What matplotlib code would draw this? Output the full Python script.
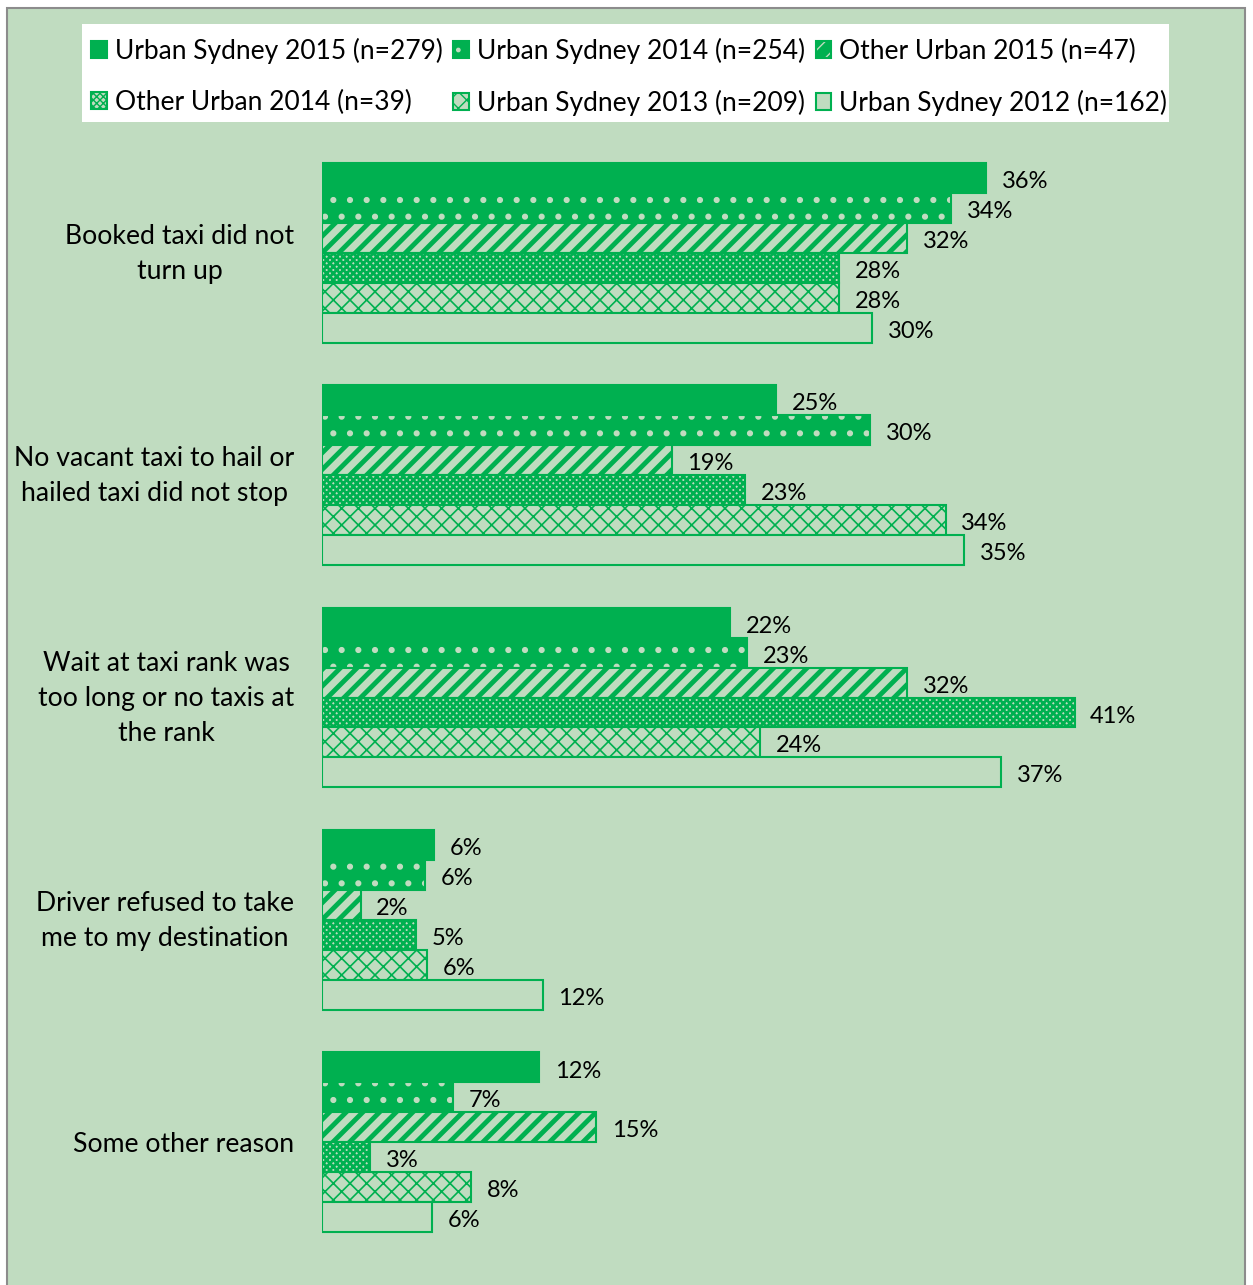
import matplotlib.pyplot as plt
from matplotlib.patches import Rectangle
from matplotlib.transforms import ScaledTranslation

categories = ['Booked taxi did not\nturn up',
              'No vacant taxi to hail or\nhailed taxi did not stop',
              'Wait at taxi rank was\ntoo long or no taxis at\nthe rank',
              'Driver refused to take\nme to my destination',
              'Some other reason']
series = ['Urban Sydney 2015 (n=279)', 'Urban Sydney 2014 (n=254)',
          'Other Urban 2015 (n=47)', 'Other Urban 2014 (n=39)',
          'Urban Sydney 2013 (n=209)', 'Urban Sydney 2012 (n=162)']
# percentages per series, one value per category
us2015 = [36.1, 24.7, 22.2, 6.1, 11.8]
us2014 = [34.2, 29.8, 23.1, 5.6, 7.1]
ou2015 = [31.8, 19.0, 31.8, 2.1, 14.9]
ou2014 = [28.1, 23.0, 40.9, 5.1, 2.6]
us2013 = [28.1, 33.9, 23.8, 5.7, 8.1]
us2012 = [29.9, 34.9, 36.9, 12.0, 6.0]
values = [us2015, us2014, ou2015, ou2014, us2013, us2012]

GREEN = '#00b050'
BG = '#c0dcc0'
# face, hatch colour, hatch, hatch linewidth
styles = [
    (GREEN, GREEN, None, 1.0),
    (GREEN, BG, '.', 2.0),
    (GREEN, BG, '//', 5.0),
    (BG, GREEN, 'xxxxx', 2.0),
    (BG, GREEN, 'xx', 1.2),
    (BG, GREEN, None, 1.0),
]

plt.rcParams['font.family'] = ['Lato', 'DejaVu Sans']

fig = plt.figure(figsize=(12.53, 12.85), dpi=100)
fig.patch.set_facecolor('white')
W, H = 1253, 1285
fig.patches.append(Rectangle((7 / W, -0.01), 1238 / W, 1.01 - 8 / H,
                             transform=fig.transFigure, facecolor=BG,
                             edgecolor='#8c8c8c', linewidth=1.5, zorder=-5))
# white legend box
fig.patches.append(Rectangle((82 / W, 1 - 122 / H), 1087 / W, 98 / H,
                             transform=fig.transFigure, facecolor='white',
                             edgecolor='none', zorder=-4))

ax = fig.add_axes([322 / W, 1 - 1253 / H, 920 / W, 1111 / H])
ax.set_facecolor('none')
step = 7.43
handles = []
for j, (name, vals) in enumerate(zip(series, values)):
    face, hcol, hatch, hlw = styles[j]
    ys = [i * step + j for i in range(len(categories))]
    with plt.rc_context({'hatch.linewidth': hlw}):
        b = ax.barh(ys, vals, height=1.0, color=face, edgecolor=hcol,
                    hatch=hatch, linewidth=0)
    o = ax.barh(ys, vals, height=1.0, fill=False, edgecolor=GREEN, linewidth=1.5)
    handles.append((b, o))
    for y, v in zip(ys, vals):
        ax.text(v + 0.85, y + 0.12, f'{round(v)}%', va='center', ha='left',
                fontsize=17)

ax.set_xlim(0, 50)
ax.set_ylim(4 * step + 6.2, -1.2)
ax.set_yticks([i * step + 2.5 for i in range(len(categories))])
ax.set_yticklabels(categories, fontsize=19.2, multialignment='center',
                   linespacing=1.5)
ax.tick_params(axis='y', length=0, pad=20)
ax.set_xticks([])
for s in ax.spines.values():
    s.set_visible(False)
# nudge multi-line labels up a little
for lab in ax.get_yticklabels():
    if '\n' in lab.get_text():
        lab.set_transform(lab.get_transform() +
                          ScaledTranslation(0, 0.065, fig.dpi_scale_trans))

order = [0, 3, 1, 4, 2, 5]
leg = fig.legend(handles=[handles[k] for k in order],
                 labels=[series[k] for k in order], ncol=3,
                 loc='upper left', bbox_to_anchor=(91 / W, 1 - 38 / H),
                 fontsize=19, frameon=False,
                 handlelength=0.6, handleheight=0.6, handletextpad=0.3,
                 columnspacing=0.4, labelspacing=0.98, borderpad=0,
                 borderaxespad=0)

plt.savefig('out.png', dpi=100)
